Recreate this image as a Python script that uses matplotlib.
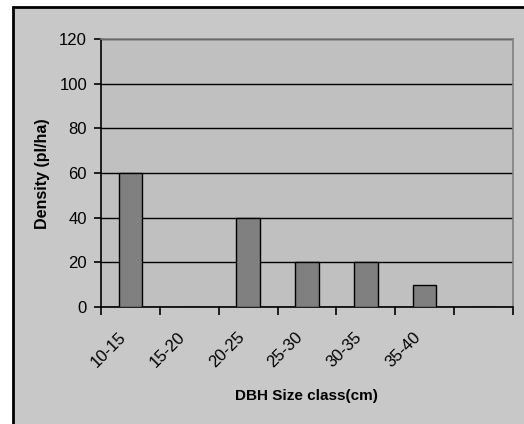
import matplotlib.pyplot as plt
import numpy as np
from matplotlib.patches import Rectangle

plt.rcParams['font.family'] = ['Liberation Sans', 'DejaVu Sans']

# DBH size classes and stem density
size_classes = ["10-15", "15-20", "20-25", "25-30", "30-35", "35-40", ""]
density = [60, 0, 40, 20, 20, 10, 0]
y_ticks = [0, 20, 40, 60, 80, 100, 120]

fig = plt.figure(figsize=(5.24, 4.24), dpi=100, facecolor="white")

# chart area with black frame (runs off the right and bottom edges)
frame = Rectangle((13 / 524, -0.1), 1.2, 1 - 7.5 / 424 + 0.1,
                  transform=fig.transFigure, facecolor="#c8c8c8",
                  edgecolor="black", linewidth=2.0, zorder=-10)
fig.patches.append(frame)

ax = fig.add_axes([101 / 524, 1 - 307 / 424, 412 / 524, 268 / 424])
ax.set_facecolor("#c0c0c0")

x = np.arange(len(size_classes))
ax.bar(x, density, width=0.4, color="#808080", edgecolor="black",
       linewidth=1.0, zorder=3)

ax.set_xlim(-0.5, len(size_classes) - 0.5)
ax.set_ylim(0, 120)
ax.set_yticks(y_ticks)
ax.yaxis.grid(True, color="black", linewidth=1.0, zorder=1)
ax.set_axisbelow(True)

# ticks sit on the category boundaries, rotated labels end just left of centre
ax.set_xticks(np.arange(-0.5, len(size_classes)), minor=False)
ax.set_xticklabels([])
ax.set_xticks(x - 0.2, minor=True)
ax.set_xticklabels(size_classes, minor=True, rotation=45, ha="right",
                   rotation_mode="anchor", fontsize=12)
ax.tick_params(axis="x", which="minor", length=0, pad=16)
ax.tick_params(axis="x", which="major", length=6, width=1.2, direction="out")
ax.tick_params(axis="y", length=5, width=1.2, direction="out",
               labelsize=12, pad=5)

for side in ("top", "right"):
    ax.spines[side].set_color("#808080")
    ax.spines[side].set_linewidth(1.2)
for side in ("left", "bottom"):
    ax.spines[side].set_color("black")
    ax.spines[side].set_linewidth(1.2)

fig.text(43 / 524, 1 - 174 / 424, "Density (pl/ha)", fontsize=11.5,
         fontweight="bold", rotation=90, ha="center", va="center")
fig.text(306 / 524, 1 - 396 / 424, "DBH Size class(cm)", fontsize=11,
         fontweight="bold", ha="center", va="center")

fig.savefig("out.png", dpi=100, facecolor=fig.get_facecolor())
